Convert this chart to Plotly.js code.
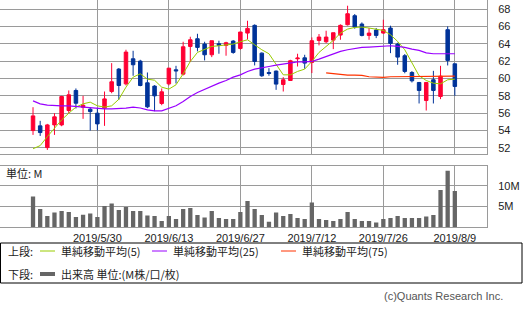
<!DOCTYPE html>
<html><head><meta charset="utf-8">
<script src="https://cdn.plot.ly/plotly-3.0.1.min.js"></script>
<style>html,body{margin:0;padding:0;background:#fff;}#chart{width:525px;height:310px;}</style>
</head><body><div id="chart"></div>
<script>
const dates = ["2019/5/16","2019/5/17","2019/5/20","2019/5/21","2019/5/22","2019/5/23","2019/5/24","2019/5/28","2019/5/29","2019/5/30",
"2019/5/31","2019/6/3","2019/6/4","2019/6/5","2019/6/6","2019/6/7","2019/6/10","2019/6/11","2019/6/12","2019/6/13",
"2019/6/14","2019/6/17","2019/6/18","2019/6/19","2019/6/20","2019/6/21","2019/6/24","2019/6/25","2019/6/26","2019/6/27",
"2019/6/28","2019/7/1","2019/7/2","2019/7/3","2019/7/5","2019/7/8","2019/7/9","2019/7/10","2019/7/11","2019/7/12",
"2019/7/15","2019/7/16","2019/7/17","2019/7/18","2019/7/19","2019/7/22","2019/7/23","2019/7/24","2019/7/25","2019/7/26",
"2019/7/29","2019/7/30","2019/7/31","2019/8/1","2019/8/2","2019/8/5","2019/8/6","2019/8/7","2019/8/8","2019/8/9"];

const openP = [54.0,54.54,52.04,54.65,54.65,56.31,58.62,56.69,56.46,56.0,
56.58,58.5,61.08,59.38,62.27,62.0,59.5,59.12,57.12,59.38,
61.0,60.5,63.69,64.58,63.96,62.73,64.0,63.81,64.31,63.46,
65.23,66.12,62.92,60.69,60.85,59.31,59.77,62.27,62.38,61.85,
64.38,64.23,64.42,65.0,66.19,67.23,66.27,64.96,65.58,65.23,
65.81,63.96,62.62,60.69,59.54,57.46,59.85,57.92,65.62,61.69];
const highP = [56.69,55.12,54.77,56.0,58.0,58.62,58.85,58.0,56.69,56.62,
58.5,61.77,61.2,63.31,63.19,62.15,60.69,59.23,58.85,61.2,
61.46,64.23,64.81,65.15,64.23,64.35,64.35,64.23,64.42,65.35,
66.65,66.23,63.0,61.19,60.92,60.15,62.15,62.85,62.73,64.73,
65.12,65.5,65.27,66.23,68.38,67.42,66.46,65.81,65.81,66.77,
66.08,64.12,62.81,60.85,59.6,59.6,60.88,61.46,66.0,61.69];
const lowP = [53.5,53.38,51.77,53.5,54.5,56.0,56.54,55.35,54.0,54.0,
54.54,58.3,57.54,59.2,60.31,59.1,56.58,56.23,56.92,59.2,
59.42,60.35,61.9,63.12,62.08,62.46,62.85,62.62,62.85,63.31,
64.5,61.5,60.19,60.31,58.69,58.5,59.77,61.38,61.12,60.62,
63.81,64.08,63.38,64.46,66.1,65.73,64.85,64.46,64.65,65.15,
62.92,61.58,60.6,59.54,57.12,56.31,57.12,57.62,61.5,58.0];
const closeP = [55.69,53.77,54.65,55.58,57.92,58.12,57.15,56.92,56.19,54.77,
57.65,59.62,59.19,63.04,61.58,59.19,56.73,58.0,58.46,61.19,
60.88,63.65,64.46,63.58,62.73,64.35,63.81,64.12,63.0,65.35,
65.77,61.96,60.31,60.58,59.35,59.85,62.04,62.35,61.77,64.35,
64.77,64.77,65.27,66.12,67.46,65.92,64.96,65.23,64.96,65.62,
64.04,62.46,60.81,59.73,58.62,59.54,58.62,60.27,62.08,59.08];

const ma5 = [51.9,52.27,53.3,54.27,55.23,56.0,56.7,57.08,57.27,56.85,
56.7,56.85,57.6,59.0,60.15,60.54,59.92,59.8,59.0,58.77,
59.27,60.54,61.96,63.0,63.31,63.69,63.77,63.85,63.96,64.23,
64.46,63.88,63.31,62.85,61.58,60.42,60.42,60.81,61.08,61.96,
63.0,63.69,64.38,65.23,65.69,65.88,65.92,65.81,65.69,65.54,
65.04,64.27,63.31,61.77,60.31,59.77,59.46,59.38,59.85,59.92];
const ma25 = [57.42,57.08,56.92,56.85,56.85,56.85,56.77,56.7,56.58,56.5,
56.5,56.5,56.5,56.58,56.7,56.6,56.38,56.27,56.27,56.58,
56.85,57.35,57.92,58.38,58.77,59.08,59.46,59.77,60.15,60.42,
60.81,61.08,61.19,61.38,61.54,61.69,61.85,61.92,61.92,61.96,
62.23,62.54,62.85,63.12,63.31,63.46,63.58,63.62,63.69,63.77,
63.77,63.69,63.58,63.38,63.23,62.95,62.85,62.85,62.85,62.85];
const ma75 = [null,null,null,null,null,null,null,null,null,null,
null,null,null,null,null,null,null,null,null,null,
null,null,null,null,null,null,null,null,null,null,
null,null,null,null,null,null,null,null,null,null,
null,60.65,60.54,60.42,60.38,60.38,60.35,60.2,60.12,60.12,
60.2,60.2,60.2,60.2,60.2,60.2,60.23,60.23,60.27,60.27];

const volumeM = [7.42,4.44,2.74,3.55,3.95,3.71,2.5,3.06,3.31,2.5,
5.16,5.73,4.19,4.92,3.95,3.95,2.82,2.74,1.53,2.74,
2.02,4.44,4.68,2.98,2.34,3.95,2.26,2.02,2.02,3.71,
6.37,4.44,2.98,1.37,3.55,2.74,3.23,2.26,2.02,5.97,
2.02,1.77,1.53,2.02,3.71,2.02,1.53,1.53,1.13,2.02,
2.26,2.74,2.26,2.26,2.26,2.58,2.98,9.03,13.63,8.79];

const dateTicks = ["2019/5/30","2019/6/13","2019/6/27","2019/7/12","2019/7/26","2019/8/9"];
const priceTicks = [52,54,56,58,60,62,64,66,68];
const volTicks = [5,10];
const volTickText = ["5M","10M"];

const RED = '#ff0033', BLUE = '#003399', GRID = '#9a9a9a';
const W = 525, H = 310;
const px = v => v / W, py = v => 1 - v / H;

const traces = [
  {type:'candlestick', x:dates, open:openP, high:highP, low:lowP, close:closeP,
   xaxis:'x', yaxis:'y',
   increasing:{line:{color:RED,width:1}, fillcolor:RED},
   decreasing:{line:{color:BLUE,width:1}, fillcolor:BLUE},
   whiskerwidth:0, hoverinfo:'skip', showlegend:false},
  {type:'scatter', mode:'lines', x:dates, y:ma5, line:{color:'#99cc00',width:1}, xaxis:'x', yaxis:'y', showlegend:false, hoverinfo:'skip'},
  {type:'scatter', mode:'lines', x:dates, y:ma25, line:{color:'#9900ff',width:1.2}, xaxis:'x', yaxis:'y', showlegend:false, hoverinfo:'skip'},
  {type:'scatter', mode:'lines', x:dates, y:ma75, line:{color:'#ff3300',width:1.2}, xaxis:'x', yaxis:'y', showlegend:false, hoverinfo:'skip'},
  {type:'bar', x:dates, y:volumeM, marker:{color:'#666666'}, xaxis:'x2', yaxis:'y2', showlegend:false, hoverinfo:'skip'}
];

const xr = [-4.62, 63.5];
const fontTick = {family:'Liberation Sans, Arial, sans-serif', size:11, color:'#222'};
const layout = {
  width:W, height:H, margin:{l:0,r:0,t:0,b:0},
  paper_bgcolor:'#fff', plot_bgcolor:'#fff',
  showlegend:false, bargap:0.4,
  xaxis:{type:'category', domain:[0, px(487)], range:xr, anchor:'y',
    rangeslider:{visible:false}, tickmode:'array', tickvals:dateTicks, showticklabels:false,
    showgrid:true, gridcolor:GRID, gridwidth:1, showline:true, linecolor:GRID, mirror:true, ticks:'', fixedrange:true},
  yaxis:{domain:[py(154), 1], range:[51.3, 69.04], side:'right', anchor:'x',
    tickmode:'array', tickvals:priceTicks, tickfont:fontTick, ticklabelstandoff:8,
    showgrid:true, gridcolor:GRID, gridwidth:1, showline:true, linecolor:GRID, mirror:true, ticks:'', zeroline:false},
  xaxis2:{type:'category', domain:[0, px(487)], range:xr, anchor:'y2', matches:'x',
    tickmode:'array', tickvals:dateTicks, ticktext:dateTicks, tickfont:fontTick, tickangle:0,
    showgrid:true, gridcolor:GRID, gridwidth:1, showline:true, linecolor:GRID, mirror:true, ticks:''},
  yaxis2:{domain:[py(227.3), py(166)], range:[0, 14.8], side:'right', anchor:'x2',
    tickmode:'array', tickvals:volTicks, ticktext:volTickText, tickfont:fontTick, ticklabelstandoff:8,
    showgrid:true, gridcolor:GRID, gridwidth:1, showline:true, linecolor:GRID, mirror:true, ticks:'', zeroline:false},
  shapes:[
    {type:'rect', xref:'paper', yref:'paper', x0:px(0.5), x1:px(522), y0:py(243), y1:py(283), line:{color:'#000',width:1}},
    {type:'line', xref:'paper', yref:'paper', x0:px(40), x1:px(55), y0:py(251), y1:py(251), line:{color:'#99cc00',width:1}},
    {type:'line', xref:'paper', yref:'paper', x0:px(152), x1:px(167), y0:py(251), y1:py(251), line:{color:'#9900ff',width:1}},
    {type:'line', xref:'paper', yref:'paper', x0:px(281), x1:px(296), y0:py(251), y1:py(251), line:{color:'#ff3300',width:1}},
    {type:'line', xref:'paper', yref:'paper', x0:px(40), x1:px(55), y0:py(274), y1:py(274), line:{color:'#666666',width:4}}
  ],
  annotations:[]
};
const cjk = {family:'Noto Sans CJK JP, sans-serif', size:11, color:'#222'};
function ann(text, x, y, anchor, font){
  layout.annotations.push({text:text, xref:'paper', yref:'paper', x:px(x), y:py(y), xanchor:anchor||'left', yanchor:'middle', showarrow:false, font:font||cjk});
}
ann('単位: M', 4, 173);
ann('上段:', 6, 251);
ann('単純移動平均(5)', 59, 251);
ann('単純移動平均(25)', 171, 251);
ann('単純移動平均(75)', 300, 251);
ann('下段:', 6, 274);
ann('出来高 単位:(M株/口/枚)', 59, 274);
ann('(c)Quants Research Inc.', 505, 296, 'right', {family:'Liberation Sans, Arial, sans-serif', size:11, color:'#555'});

Plotly.newPlot('chart', traces, layout, {staticPlot:true, displayModeBar:false});
</script></body></html>
